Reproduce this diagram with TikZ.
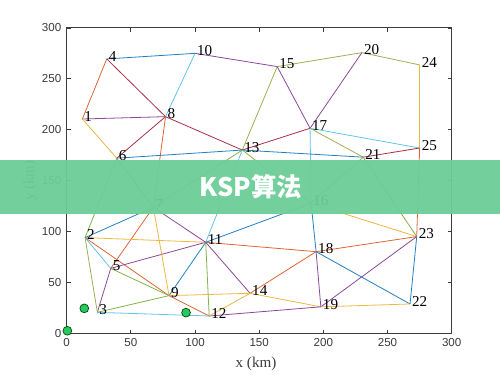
\documentclass[tikz,border=0pt]{standalone}
\usepackage{fontspec}
\setmainfont{Liberation Serif}
\newfontfamily\ticksf{Liberation Sans}
\newfontfamily\cjkf{Noto Sans CJK SC}
\definecolor{mB}{rgb}{0.12,0.50,0.76}
\definecolor{mO}{rgb}{0.86,0.40,0.20}
\definecolor{mY}{rgb}{0.93,0.72,0.25}
\definecolor{mP}{rgb}{0.54,0.28,0.60}
\definecolor{mG}{rgb}{0.50,0.70,0.28}
\definecolor{mC}{rgb}{0.38,0.77,0.93}
\definecolor{mM}{rgb}{0.66,0.18,0.28}
\definecolor{mL}{rgb}{0.64,0.68,0.32}
\definecolor{banner}{RGB}{108,206,152}
\definecolor{axisgray}{RGB}{60,60,60}
\definecolor{dotgreen}{RGB}{40,200,100}
\tikzset{
  edge/.style={line width=0.45pt},
  vlabel/.style={anchor=west, inner sep=1pt, font=\fontsize{8.6}{9}\selectfont, yshift=1.5pt},
  ticklab/.style={inner sep=0pt, font=\ticksf\fontsize{6.6}{7}\selectfont, text=axisgray},
  dot/.style={circle, fill=dotgreen, draw=black!70!green, line width=0.4pt, inner sep=0pt, minimum size=5pt}
}
\begin{document}
\begin{tikzpicture}[x=0.02cm, y=-0.02cm]
\useasboundingbox (0,0) rectangle (500,375);
\fill[white] (0,0) rectangle (500,375);
\begin{scope}[shift={(66.7,333.3)}, xscale=1.2833, yscale=-1.0178]
  % axes box
  \draw[axisgray, line width=0.6pt] (0,0) rectangle (300,300);
  \foreach \v in {0,50,...,300} {
    \draw[axisgray, line width=0.5pt] (\v,0) -- (\v,3.5);
    \draw[axisgray, line width=0.5pt] (\v,300) -- (\v,296.5);
    \draw[axisgray, line width=0.5pt] (0,\v) -- (3,\v);
    \draw[axisgray, line width=0.5pt] (300,\v) -- (297,\v);
    \node[ticklab, anchor=north] at (\v,-5) {\v};
    \node[ticklab, anchor=east] at (-4,\v) {\v};
  }
  \node[font=\fontsize{8.6}{9}\selectfont, text=axisgray] (xl) at (147.5,-30.2) {x (km)};
  \node[font=\fontsize{8.6}{9}\selectfont, text=axisgray, rotate=90] (yl) at (-28.6,150) {y (km)};
  % vertices
  \coordinate (n1) at (12.2,210.5);
  \coordinate (n2) at (14.3,94);
  \coordinate (n3) at (23.9,20.6);
  \coordinate (n4) at (31.2,269.5);
  \coordinate (n5) at (34.3,63.8);
  \coordinate (n6) at (39,172);
  \coordinate (n7) at (67.5,123.8);
  \coordinate (n8) at (77,212.8);
  \coordinate (n9) at (79.7,37);
  \coordinate (n10) at (100,275);
  \coordinate (n11) at (108.3,89.4);
  \coordinate (n12) at (111,17);
  \coordinate (n13) at (136.8,180);
  \coordinate (n14) at (142.9,39.3);
  \coordinate (n15) at (164,262);
  \coordinate (n16) at (190.4,127.7);
  \coordinate (n17) at (189.6,201.4);
  \coordinate (n18) at (194.3,80.2);
  \coordinate (n19) at (198,26);
  \coordinate (n20) at (230,275.7);
  \coordinate (n21) at (231,173);
  \coordinate (n22) at (267.5,28.8);
  \coordinate (n23) at (272.7,95);
  \coordinate (n24) at (275,263.6);
  \coordinate (n25) at (275,182);
  % edges
  \draw[edge, mO] (n1) -- (n4);
  \draw[edge, mB] (n4) -- (n10);
  \draw[edge, mM] (n4) -- (n8);
  \draw[edge, mP] (n1) -- (n8);
  \draw[edge, mY] (n1) -- (n6);
  \draw[edge, mC] (n10) -- (n8);
  \draw[edge, mP] (n10) -- (n15);
  \draw[edge, mM] (n8) -- (n13);
  \draw[edge, mM] (n8) -- (n6);
  \draw[edge, mO] (n8) -- (n7);
  \draw[edge, mB] (n6) -- (n13);
  \draw[edge, mL] (n13) -- (n15);
  \draw[edge, mL] (n15) -- (n20);
  \draw[edge, mL] (n20) -- (n24);
  \draw[edge, mY] (n24) -- (n25);
  \draw[edge, mP] (n15) -- (n17);
  \draw[edge, mP] (n17) -- (n20);
  \draw[edge, mM] (n13) -- (n17);
  \draw[edge, mC] (n17) -- (n25);
  \draw[edge, mL] (n17) -- (n21);
  \draw[edge, mC] (n17) -- (n16);
  \draw[edge, mB] (n13) -- (n21);
  \draw[edge, mM] (n21) -- (n25);
  \draw[edge, mG] (n21) -- (n16);
  \draw[edge, mG] (n21) -- (n23);
  \draw[edge, mG] (n13) -- (n16);
  \draw[edge, mG] (n13) -- (n7);
  \draw[edge, mC] (n13) -- (n11);
  \draw[edge, mB] (n11) -- (n16);
  \draw[edge, mY] (n16) -- (n23);
  \draw[edge, mB] (n16) -- (n18);
  \draw[edge, mP] (n18) -- (n19);
  \draw[edge, mO] (n18) -- (n23);
  \draw[edge, mO] (n11) -- (n18);
  \draw[edge, mB] (n18) -- (n22);
  \draw[edge, mP] (n19) -- (n23);
  \draw[edge, mY] (n19) -- (n22);
  \draw[edge, mB] (n22) -- (n23);
  \draw[edge, mO] (n25) -- (n23);
  \draw[edge, mO] (n14) -- (n18);
  \draw[edge, mY] (n14) -- (n19);
  \draw[edge, mP] (n12) -- (n19);
  \draw[edge, mP] (n11) -- (n14);
  \draw[edge, mG] (n11) -- (n12);
  \draw[edge, mB] (n11) -- (n9);
  \draw[edge, mY] (n9) -- (n14);
  \draw[edge, mY] (n12) -- (n14);
  \draw[edge, mO] (n9) -- (n12);
  \draw[edge, mO] (n2) -- (n9);
  \draw[edge, mG] (n5) -- (n9);
  \draw[edge, mP] (n5) -- (n11);
  \draw[edge, mO] (n5) -- (n7);
  \draw[edge, mP] (n3) -- (n5);
  \draw[edge, mG] (n3) -- (n9);
  \draw[edge, mC] (n3) -- (n12);
  \draw[edge, mL] (n2) -- (n3);
  \draw[edge, mC] (n2) -- (n5);
  \draw[edge, mY] (n2) -- (n11);
  \draw[edge, mB] (n2) -- (n7);
  \draw[edge, mG] (n2) -- (n6);
  \draw[edge, mG] (n6) -- (n7);
  \draw[edge, mY] (n7) -- (n9);
  \draw[edge, mP] (n7) -- (n11);
  % labels
  \foreach \i in {1,...,25} { \node[vlabel] (t\i) at (n\i) {\i}; }
  % green points
  \node[dot] (p1) at (0.5,2.5) {};
  \node[dot] (p2) at (13.7,24.5) {};
  \node[dot] (p3) at (93,20.3) {};
\end{scope}
% banner
\fill[banner, opacity=0.95] (0,160) rectangle (500,214);
\node[text=white, font=\cjkf\bfseries\fontsize{14.5}{16}\selectfont] (title) at (251,187) {KSP算法};
\end{tikzpicture}
\end{document}
